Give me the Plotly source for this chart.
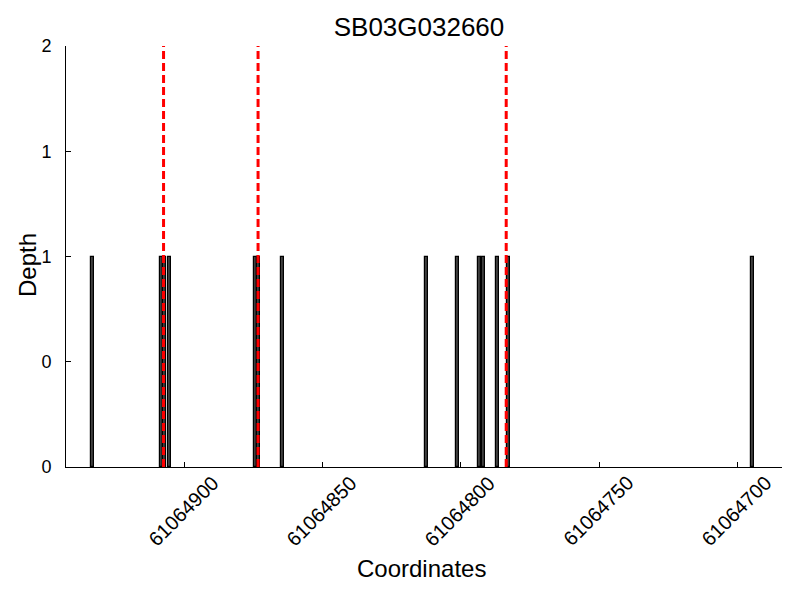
import plotly.graph_objects as go

# ---- data ----
title_text = "SB03G032660"
bar_positions = [61064933.4, 61064908.3, 61064907.3, 61064905.6, 61064874.3, 61064873.3,
                 61064864.5, 61064812.5, 61064801.3, 61064793.4, 61064791.7, 61064786.6,
                 61064782.6, 61064694.6]
bar_depths = [1, 1, 1, 1, 1, 1, 1, 1, 1, 1, 1, 1, 1, 1]
marker_positions = [61064907.6, 61064873.4, 61064783.6]
x_tick_vals = [61064900, 61064850, 61064800, 61064750, 61064700]
x_tick_text = ["61064900", "61064850", "61064800", "61064750", "61064700"]
y_tick_vals = [0, 0.5, 1, 1.5, 2]
y_tick_text = ["0", "0", "1", "1", "2"]
x_range = [61064942.9, 61064683.8]
y_range = [0, 2]

FONT = "Liberation Sans, Arial, sans-serif"
L, R, T, B = 58, 26, 38, 141
PW = 800 - L - R

fig = go.Figure()
fig.add_trace(go.Bar(
    x=bar_positions, y=bar_depths, width=1.1,
    marker=dict(color="#404040", line=dict(color="black", width=1.2)),
    showlegend=False, hoverinfo="x+y",
))

shapes = []
for p in marker_positions:
    shapes.append(dict(type="line", xref="x", yref="paper", x0=p, x1=p, y0=0, y1=1,
                       line=dict(color="red", width=3, dash="8px,4px"), layer="above"))

annotations = []
for v, t in zip(x_tick_vals, x_tick_text):
    annotations.append(dict(x=v, y=0, xref="x", yref="paper", text=t, showarrow=False,
                            textangle=-45, xanchor="center", yanchor="middle",
                            yshift=-44, xshift=-1,
                            font=dict(family=FONT, size=20, color="black")))
annotations.append(dict(x=(413 - L) / PW, y=0, xref="paper", yref="paper", text="Coordinates",
                        showarrow=False, xanchor="center", yanchor="middle", yshift=-101,
                        font=dict(family=FONT, size=24, color="black")))
annotations.append(dict(x=(19 - L) / PW, y=(467 - 265) / 421, xref="paper", yref="paper",
                        text="Depth", showarrow=False, textangle=-90,
                        xanchor="center", yanchor="middle",
                        font=dict(family=FONT, size=24, color="black")))

fig.update_layout(
    width=800, height=600,
    margin=dict(l=L, r=R, t=T, b=B),
    paper_bgcolor="white", plot_bgcolor="white",
    bargap=0,
    title=dict(text=title_text, x=(411 - L) / PW, xref="paper", xanchor="center",
               y=1 - 19 / 600, yref="container", yanchor="middle",
               font=dict(family=FONT, size=26, color="black")),
    xaxis=dict(range=x_range, tickvals=x_tick_vals, showticklabels=False,
               ticks="inside", ticklen=5, tickcolor="black", tickwidth=1,
               showline=True, linecolor="black", linewidth=1,
               showgrid=False, zeroline=False),
    yaxis=dict(range=y_range, tickvals=y_tick_vals, ticktext=y_tick_text,
               ticks="inside", ticklen=5, tickcolor="black", tickwidth=1,
               showline=True, linecolor="black", linewidth=1,
               showgrid=False, zeroline=False, ticklabelstandoff=10,
               tickfont=dict(family=FONT, size=18, color="black")),
    shapes=shapes,
    annotations=annotations,
)

fig.write_html("out.html")
